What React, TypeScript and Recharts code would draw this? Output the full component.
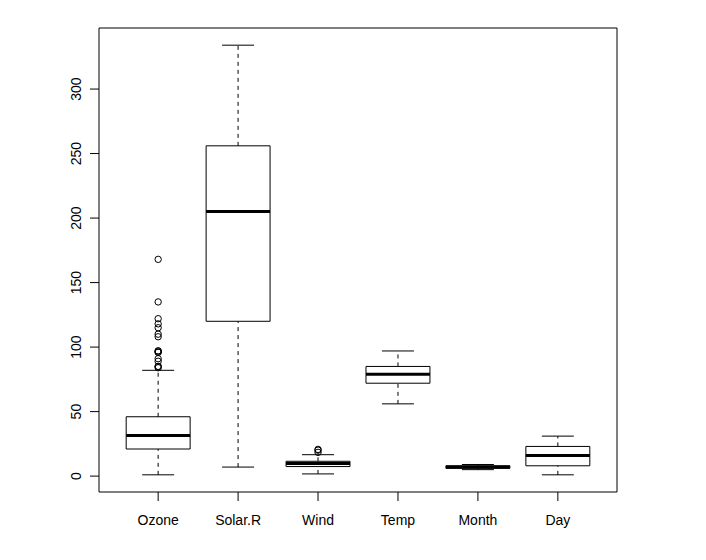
import React from 'react';
import { ComposedChart, XAxis, YAxis, Scatter, ReferenceArea, ReferenceLine } from 'recharts';

const categories = ['Ozone', 'Solar.R', 'Wind', 'Temp', 'Month', 'Day'];
const lowerWhisker = [1, 7, 1.7, 56, 5, 1];
const lowerHinge = [21, 120, 7.4, 72, 6, 8];
const medians = [31.5, 205, 9.7, 79, 7, 16];
const upperHinge = [46, 256, 11.5, 85, 8, 23];
const upperWhisker = [82, 334, 16.6, 97, 9, 31];
const ozoneOutliers = [84, 85, 85, 89, 91, 96, 96, 97, 97, 108, 110, 115, 118, 122, 135, 168];
const solarOutliers: number[] = [];
const windOutliers = [18.4, 20.1, 20.7];
const tempOutliers: number[] = [];
const monthOutliers: number[] = [];
const dayOutliers: number[] = [];
const yTicks = [0, 50, 100, 150, 200, 250, 300];
const xTicks = [1, 2, 3, 4, 5, 6];

const outlierLists = [ozoneOutliers, solarOutliers, windOutliers, tempOutliers, monthOutliers, dayOutliers];
const outlierData = outlierLists.flatMap((list, i) => list.map((v) => ({ x: i + 1, y: v })));

const X_DOMAIN: [number, number] = [0.26, 6.74];
const Y_DOMAIN: [number, number] = [-12.32, 347.32];
const BOX_HALF = 0.4;
const STAPLE_HALF = 0.2;
const FONT = "'Liberation Sans', Arial, Helvetica, sans-serif";
const INK = '#000';

const YTick = (props: any) => {
  const { x, y, payload } = props;
  const tx = x - 18;
  return (
    <g>
      <line x1={x - 9} x2={x} y1={y} y2={y} stroke={INK} strokeWidth={1} />
      <text
        x={tx}
        y={y}
        transform={`rotate(-90 ${tx} ${y})`}
        textAnchor="middle"
        fontSize={14}
        fontFamily={FONT}
        fill={INK}
      >
        {payload.value}
      </text>
    </g>
  );
};

const XTick = (props: any) => {
  const { x, y, payload } = props;
  return (
    <g>
      <line x1={x} x2={x} y1={y} y2={y + 9} stroke={INK} strokeWidth={1} />
      <text x={x} y={y + 33} textAnchor="middle" fontSize={14} fontFamily={FONT} fill={INK}>
        {categories[payload.value - 1]}
      </text>
    </g>
  );
};

const OutlierShape = (props: any) => {
  const { cx, cy } = props;
  return <circle cx={cx} cy={cy} r={3.2} fill="none" stroke={INK} strokeWidth={1} />;
};

export default function App() {
  const boxes = categories.map((c, i) => {
    const p = i + 1;
    return (
      <React.Fragment key={c}>
        <ReferenceLine
          segment={[{ x: p, y: lowerWhisker[i] }, { x: p, y: lowerHinge[i] }]}
          stroke={INK}
          strokeDasharray="4 4"
          ifOverflow="visible"
        />
        <ReferenceLine
          segment={[{ x: p, y: upperHinge[i] }, { x: p, y: upperWhisker[i] }]}
          stroke={INK}
          strokeDasharray="4 4"
          ifOverflow="visible"
        />
        <ReferenceLine
          segment={[{ x: p - STAPLE_HALF, y: lowerWhisker[i] }, { x: p + STAPLE_HALF, y: lowerWhisker[i] }]}
          stroke={INK}
          ifOverflow="visible"
        />
        <ReferenceLine
          segment={[{ x: p - STAPLE_HALF, y: upperWhisker[i] }, { x: p + STAPLE_HALF, y: upperWhisker[i] }]}
          stroke={INK}
          ifOverflow="visible"
        />
        <ReferenceArea
          x1={p - BOX_HALF}
          x2={p + BOX_HALF}
          y1={lowerHinge[i]}
          y2={upperHinge[i]}
          fill="#fff"
          fillOpacity={1}
          stroke={INK}
          strokeWidth={1}
          ifOverflow="visible"
        />
        <ReferenceLine
          segment={[{ x: p - BOX_HALF, y: medians[i] }, { x: p + BOX_HALF, y: medians[i] }]}
          stroke={INK}
          strokeWidth={3}
          ifOverflow="visible"
        />
      </React.Fragment>
    );
  });

  return (
    <div style={{ width: 690, height: 544, background: '#fff' }}>
      <ComposedChart
        width={690}
        height={544}
        data={outlierData}
        margin={{ top: 20, right: 81, bottom: 20, left: 31 }}
      >
        <XAxis
          dataKey="x"
          type="number"
          domain={X_DOMAIN}
          allowDataOverflow
          ticks={xTicks}
          interval={0}
          axisLine={false}
          tickLine={false}
          tickSize={0}
          tickMargin={0}
          height={40}
          tick={<XTick />}
        />
        <YAxis
          dataKey="y"
          type="number"
          domain={Y_DOMAIN}
          allowDataOverflow
          ticks={yTicks}
          interval={0}
          axisLine={false}
          tickLine={false}
          tickSize={0}
          tickMargin={0}
          width={60}
          tick={<YTick />}
        />
        <ReferenceArea
          x1={X_DOMAIN[0]}
          x2={X_DOMAIN[1]}
          y1={Y_DOMAIN[0]}
          y2={Y_DOMAIN[1]}
          fill="none"
          stroke={INK}
          strokeWidth={1}
          ifOverflow="visible"
        />
        {boxes}
        <Scatter data={outlierData} dataKey="y" shape={<OutlierShape />} isAnimationActive={false} />
      </ComposedChart>
    </div>
  );
}
